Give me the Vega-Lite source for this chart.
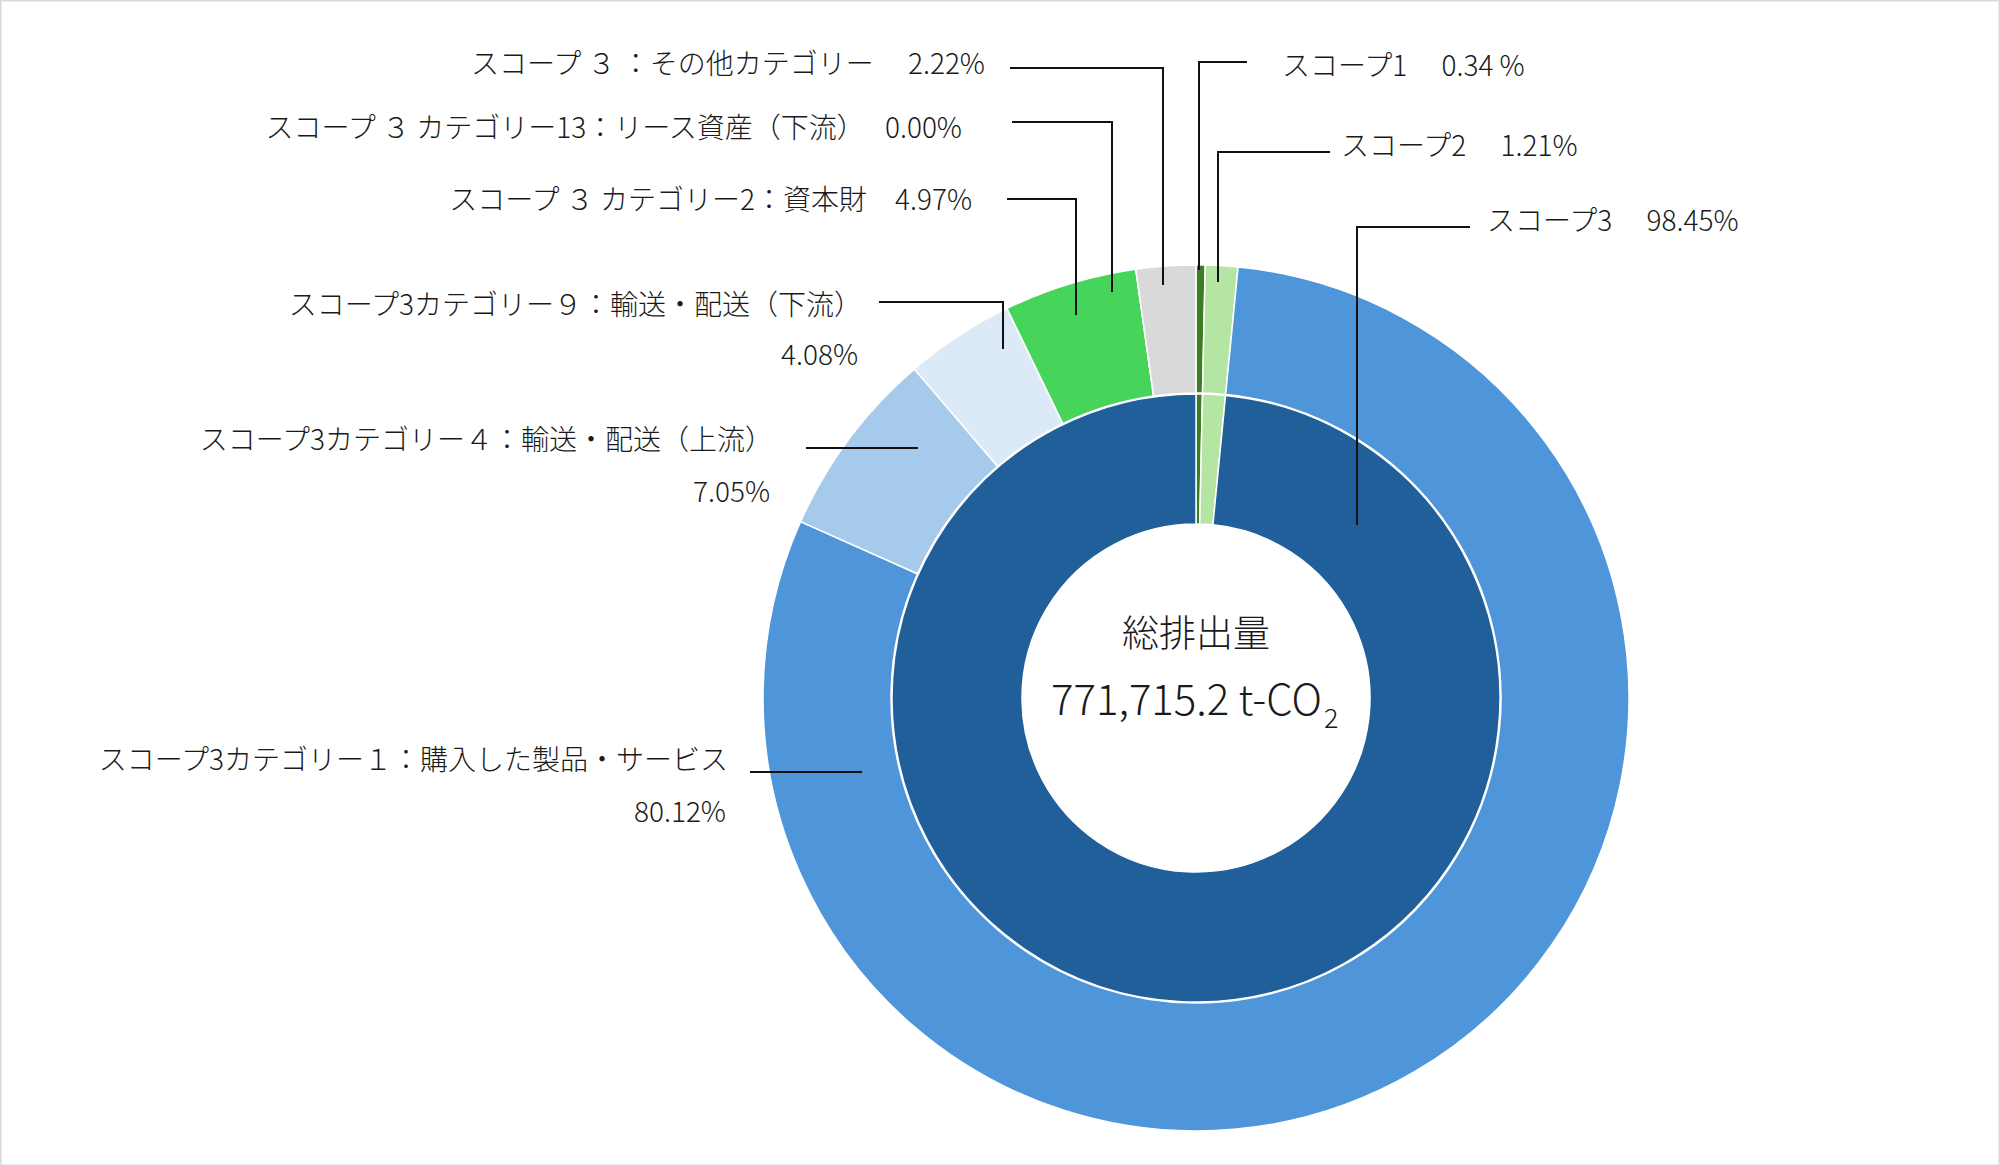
{
  "$schema": "https://vega.github.io/schema/vega-lite/v6.json",
  "width": 2000,
  "height": 1166,
  "padding": 0,
  "autosize": {"type": "none"},
  "background": "white",
  "config": {
    "font": "Noto Sans CJK JP",
    "view": {"stroke": "#d9d9d9", "strokeWidth": 3},
    "text": {"font": "Noto Sans CJK JP", "color": "#1a1a1a", "fontWeight": 300}
  },
  "datasets": {
    "outer": [
      {"name": "スコープ1", "share": 0.34, "seq": 1},
      {"name": "スコープ2", "share": 1.21, "seq": 2},
      {"name": "カテゴリー1", "share": 80.12, "seq": 3},
      {"name": "カテゴリー4", "share": 7.05, "seq": 4},
      {"name": "カテゴリー9", "share": 4.08, "seq": 5},
      {"name": "カテゴリー2", "share": 4.97, "seq": 6},
      {"name": "カテゴリー13", "share": 0.0, "seq": 7},
      {"name": "その他", "share": 2.22, "seq": 8}
    ],
    "inner": [
      {"name": "スコープ1", "share": 0.34, "seq": 1},
      {"name": "スコープ2", "share": 1.21, "seq": 2},
      {"name": "スコープ3", "share": 98.45, "seq": 3}
    ],
    "leaders": [
      {"id": "other", "seq": 1, "X": -186, "Y": 630},
      {"id": "other", "seq": 2, "X": -33, "Y": 630},
      {"id": "other", "seq": 3, "X": -33, "Y": 413},
      {"id": "cat13", "seq": 1, "X": -184, "Y": 576},
      {"id": "cat13", "seq": 2, "X": -84, "Y": 576},
      {"id": "cat13", "seq": 3, "X": -84, "Y": 406},
      {"id": "cat2", "seq": 1, "X": -189, "Y": 499},
      {"id": "cat2", "seq": 2, "X": -120, "Y": 499},
      {"id": "cat2", "seq": 3, "X": -120, "Y": 383},
      {"id": "cat9", "seq": 1, "X": -317, "Y": 396},
      {"id": "cat9", "seq": 2, "X": -193, "Y": 396},
      {"id": "cat9", "seq": 3, "X": -193, "Y": 349},
      {"id": "cat4", "seq": 1, "X": -390, "Y": 250},
      {"id": "cat4", "seq": 2, "X": -278, "Y": 250},
      {"id": "cat1", "seq": 1, "X": -446, "Y": -74},
      {"id": "cat1", "seq": 2, "X": -334, "Y": -74},
      {"id": "s1", "seq": 1, "X": 51, "Y": 636},
      {"id": "s1", "seq": 2, "X": 3, "Y": 636},
      {"id": "s1", "seq": 3, "X": 3, "Y": 428},
      {"id": "s2", "seq": 1, "X": 134, "Y": 546},
      {"id": "s2", "seq": 2, "X": 22, "Y": 546},
      {"id": "s2", "seq": 3, "X": 22, "Y": 416},
      {"id": "s3", "seq": 1, "X": 274, "Y": 471},
      {"id": "s3", "seq": 2, "X": 161, "Y": 471},
      {"id": "s3", "seq": 3, "X": 161, "Y": 173}
    ],
    "labelsRight": [
      {"label": "スコープ ３ ：その他カテゴリー　 2.22%", "X": -211, "Y": 632},
      {"label": "スコープ ３ カテゴリー13：リース資産（下流）　 0.00%", "X": -234, "Y": 568},
      {"label": "スコープ ３ カテゴリー2：資本財　4.97%", "X": -224, "Y": 496},
      {"label": "スコープ3カテゴリー９：輸送・配送（下流）", "X": -334, "Y": 391},
      {"label": "4.08%", "X": -338, "Y": 341},
      {"label": "スコープ3カテゴリー４：輸送・配送（上流）", "X": -423, "Y": 256},
      {"label": "7.05%", "X": -426, "Y": 204},
      {"label": "スコープ3カテゴリー１：購入した製品・サービス", "X": -468, "Y": -64},
      {"label": "80.12%", "X": -470, "Y": -116}
    ],
    "labelsLeft": [
      {"label": "スコープ1　 0.34 %", "X": 86, "Y": 630},
      {"label": "スコープ2　 1.21%", "X": 145, "Y": 550},
      {"label": "スコープ3　 98.45%", "X": 291, "Y": 475}
    ]
  },
  "layer": [
    {
      "data": {"name": "outer"},
      "mark": {"type": "arc", "innerRadius": 305, "outerRadius": 433, "stroke": "white", "strokeWidth": 1.5},
      "encoding": {
        "x": {"datum": 0, "type": "quantitative", "scale": {"domain": [-1196, 804], "nice": false, "zero": false}, "axis": null},
        "y": {"datum": 0, "type": "quantitative", "scale": {"domain": [-468, 698], "nice": false, "zero": false}, "axis": null},
        "theta": {"field": "share", "type": "quantitative", "stack": true},
        "order": {"field": "seq"},
        "color": {
          "field": "name",
          "type": "nominal",
          "legend": null,
          "scale": {
            "domain": ["スコープ1", "スコープ2", "スコープ3", "カテゴリー1", "カテゴリー4", "カテゴリー9", "カテゴリー2", "カテゴリー13", "その他"],
            "range": ["#3a7d22", "#b4e5a2", "#215f9a", "#4e95d9", "#a6caec", "#dceaf7", "#47d45a", "#bfbfbf", "#d9d9d9"]
          }
        }
      }
    },
    {
      "data": {"name": "inner"},
      "mark": {"type": "arc", "innerRadius": 174, "outerRadius": 304, "stroke": "white", "strokeWidth": 1.5},
      "encoding": {
        "x": {"datum": 0, "type": "quantitative"},
        "y": {"datum": 0, "type": "quantitative"},
        "theta": {"field": "share", "type": "quantitative", "stack": true},
        "order": {"field": "seq"},
        "color": {"field": "name", "type": "nominal", "legend": null}
      }
    },
    {
      "data": {"name": "leaders"},
      "mark": {"type": "line", "color": "#111111", "strokeWidth": 2},
      "encoding": {
        "x": {"field": "X", "type": "quantitative"},
        "y": {"field": "Y", "type": "quantitative"},
        "detail": {"field": "id"},
        "order": {"field": "seq"}
      }
    },
    {
      "data": {"name": "labelsRight"},
      "mark": {"type": "text", "align": "right", "baseline": "middle", "fontSize": 28},
      "encoding": {
        "x": {"field": "X", "type": "quantitative"},
        "y": {"field": "Y", "type": "quantitative"},
        "text": {"field": "label"}
      }
    },
    {
      "data": {"name": "labelsLeft"},
      "mark": {"type": "text", "align": "left", "baseline": "middle", "fontSize": 28},
      "encoding": {
        "x": {"field": "X", "type": "quantitative"},
        "y": {"field": "Y", "type": "quantitative"},
        "text": {"field": "label"}
      }
    },
    {
      "data": {"values": [{}]},
      "mark": {"type": "text", "align": "center", "baseline": "middle", "fontSize": 37, "text": "総排出量"},
      "encoding": {
        "x": {"datum": 0, "type": "quantitative"},
        "y": {"datum": 62, "type": "quantitative"}
      }
    },
    {
      "data": {"values": [{}]},
      "mark": {"type": "text", "align": "right", "baseline": "middle", "fontSize": 42, "text": "771,715.2 t-CO"},
      "encoding": {
        "x": {"datum": 126, "type": "quantitative"},
        "y": {"datum": -4, "type": "quantitative"}
      }
    },
    {
      "data": {"values": [{}]},
      "mark": {"type": "text", "align": "left", "baseline": "middle", "fontSize": 27, "text": "2"},
      "encoding": {
        "x": {"datum": 128, "type": "quantitative"},
        "y": {"datum": -22, "type": "quantitative"}
      }
    }
  ],
  "resolve": {"scale": {"theta": "independent"}}
}
